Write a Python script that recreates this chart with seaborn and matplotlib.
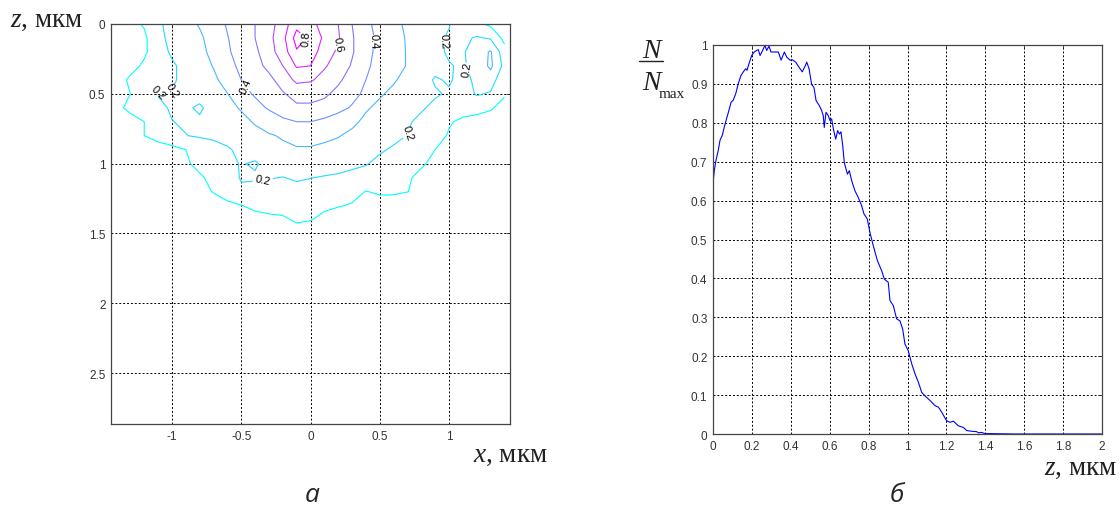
import numpy as np
import matplotlib
matplotlib.use("Agg")
import matplotlib.pyplot as plt
from matplotlib.colors import Normalize
from matplotlib.lines import Line2D
import seaborn as sns

# ---- panel a: N(x, z) map on a 0.1 um grid ----
x_um = [-1.4, -1.3, -1.2, -1.1, -1.0, -0.9, -0.8, -0.7, -0.6, -0.5, -0.4, -0.3, -0.2, -0.1, 0.0,
        0.1, 0.2, 0.3, 0.4, 0.5, 0.6, 0.7, 0.8, 0.9, 1.0, 1.1, 1.2, 1.3, 1.4]
z_um = [0.0, 0.1, 0.2, 0.3, 0.4, 0.5, 0.6, 0.7, 0.8, 0.9, 1.0, 1.1, 1.2, 1.3, 1.4, 1.5, 1.6]
n_map = [
    [0.04, 0.07, 0.11, 0.19, 0.22, 0.26, 0.31, 0.35, 0.41, 0.46, 0.50, 0.56, 0.65, 0.77, 0.73, 0.66, 0.60, 0.50, 0.42, 0.37, 0.33, 0.28, 0.25, 0.22, 0.205, 0.15, 0.12, 0.08, 0.05],
    [0.03, 0.05, 0.08, 0.18, 0.22, 0.25, 0.28, 0.35, 0.395, 0.455, 0.50, 0.57, 0.67, 0.84, 0.78, 0.68, 0.61, 0.51, 0.43, 0.38, 0.34, 0.29, 0.25, 0.22, 0.19, 0.18, 0.21, 0.19, 0.07],
    [0.03, 0.05, 0.08, 0.17, 0.21, 0.24, 0.28, 0.32, 0.385, 0.445, 0.48, 0.56, 0.65, 0.79, 0.74, 0.66, 0.58, 0.51, 0.43, 0.37, 0.33, 0.295, 0.25, 0.22, 0.19, 0.19, 0.25, 0.31, 0.14],
    [0.03, 0.06, 0.12, 0.15, 0.19, 0.22, 0.26, 0.305, 0.37, 0.42, 0.46, 0.53, 0.60, 0.71, 0.70, 0.61, 0.56, 0.49, 0.42, 0.36, 0.33, 0.295, 0.26, 0.23, 0.205, 0.19, 0.23, 0.32, 0.17],
    [0.05, 0.12, 0.19, 0.17, 0.19, 0.22, 0.25, 0.28, 0.34, 0.40, 0.44, 0.47, 0.55, 0.62, 0.61, 0.57, 0.52, 0.45, 0.40, 0.35, 0.31, 0.27, 0.24, 0.19, 0.21, 0.17, 0.22, 0.25, 0.12],
    [0.07, 0.10, 0.17, 0.205, 0.203, 0.22, 0.25, 0.27, 0.298, 0.37, 0.41, 0.45, 0.49, 0.54, 0.54, 0.52, 0.47, 0.43, 0.38, 0.31, 0.28, 0.25, 0.22, 0.21, 0.19, 0.15, 0.21, 0.19, 0.11],
    [0.08, 0.12, 0.15, 0.18, 0.21, 0.22, 0.18, 0.25, 0.27, 0.31, 0.37, 0.41, 0.45, 0.48, 0.48, 0.46, 0.43, 0.39, 0.31, 0.28, 0.25, 0.22, 0.21, 0.18, 0.16, 0.14, 0.13, 0.11, 0.07],
    [0.05, 0.07, 0.10, 0.17, 0.198, 0.21, 0.22, 0.23, 0.24, 0.27, 0.31, 0.35, 0.38, 0.40, 0.40, 0.38, 0.35, 0.32, 0.28, 0.25, 0.23, 0.21, 0.18, 0.15, 0.11, 0.08, 0.07, 0.06, 0.04],
    [0.04, 0.07, 0.10, 0.14, 0.17, 0.198, 0.21, 0.22, 0.23, 0.25, 0.27, 0.29, 0.31, 0.335, 0.335, 0.32, 0.305, 0.28, 0.26, 0.24, 0.22, 0.198, 0.17, 0.14, 0.09, 0.07, 0.05, 0.04, 0.03],
    [0.02, 0.03, 0.04, 0.05, 0.07, 0.10, 0.13, 0.16, 0.19, 0.22, 0.24, 0.26, 0.28, 0.29, 0.29, 0.28, 0.27, 0.25, 0.23, 0.21, 0.19, 0.16, 0.13, 0.10, 0.07, 0.05, 0.04, 0.03, 0.02],
    [0.01, 0.02, 0.03, 0.04, 0.06, 0.09, 0.12, 0.15, 0.18, 0.205, 0.19, 0.23, 0.24, 0.245, 0.24, 0.235, 0.225, 0.215, 0.205, 0.18, 0.16, 0.13, 0.11, 0.08, 0.06, 0.04, 0.03, 0.02, 0.01],
    [0.01, 0.01, 0.02, 0.03, 0.04, 0.06, 0.09, 0.12, 0.17, 0.205, 0.21, 0.205, 0.198, 0.21, 0.202, 0.195, 0.19, 0.18, 0.17, 0.16, 0.14, 0.11, 0.08, 0.06, 0.04, 0.03, 0.02, 0.01, 0.01],
    [0.00, 0.01, 0.01, 0.02, 0.03, 0.05, 0.07, 0.105, 0.14, 0.19, 0.17, 0.165, 0.17, 0.175, 0.17, 0.16, 0.14, 0.12, 0.098, 0.11, 0.115, 0.102, 0.07, 0.05, 0.03, 0.02, 0.01, 0.01, 0.00],
    [0.00, 0.00, 0.01, 0.01, 0.02, 0.03, 0.04, 0.06, 0.08, 0.098, 0.12, 0.13, 0.125, 0.13, 0.125, 0.115, 0.104, 0.095, 0.08, 0.07, 0.05, 0.04, 0.03, 0.02, 0.01, 0.00, 0.00, 0.00, 0.00],
    [0.00, 0.00, 0.00, 0.01, 0.01, 0.02, 0.03, 0.04, 0.05, 0.06, 0.07, 0.08, 0.09, 0.11, 0.104, 0.08, 0.07, 0.06, 0.05, 0.04, 0.03, 0.02, 0.01, 0.01, 0.00, 0.00, 0.00, 0.00, 0.00],
    [0.00, 0.00, 0.00, 0.00, 0.01, 0.01, 0.02, 0.02, 0.03, 0.03, 0.04, 0.05, 0.06, 0.07, 0.06, 0.05, 0.04, 0.03, 0.03, 0.02, 0.02, 0.01, 0.01, 0.00, 0.00, 0.00, 0.00, 0.00, 0.00],
    [0.00, 0.00, 0.00, 0.00, 0.00, 0.00, 0.01, 0.01, 0.01, 0.02, 0.02, 0.02, 0.03, 0.03, 0.03, 0.02, 0.02, 0.02, 0.01, 0.01, 0.01, 0.00, 0.00, 0.00, 0.00, 0.00, 0.00, 0.00, 0.00],
]
plain_levels = [0.1, 0.3, 0.5, 0.7]
label_levels = [0.2, 0.4, 0.6, 0.8]
label_spots = [(-0.03, 0.10), (0.17, 0.14), (0.42, 0.12), (-0.46, 0.44), (0.94, 0.12),
               (1.21, 0.31), (-1.2, 0.44), (-1.0, 0.47), (0.71, 0.78), (-0.35, 1.1)]

# ---- panel b: N/Nmax vs depth ----
z_depth = [0.000, 0.007, 0.015, 0.027, 0.036, 0.048, 0.058, 0.070, 0.082, 0.093, 0.104, 0.117,
           0.130, 0.144, 0.156, 0.168, 0.175, 0.185, 0.199, 0.212, 0.224, 0.233, 0.242, 0.254,
           0.267, 0.276, 0.288, 0.298, 0.319, 0.336, 0.350, 0.367, 0.379, 0.396, 0.408, 0.425,
           0.442, 0.459, 0.473, 0.482, 0.494, 0.507, 0.519, 0.530, 0.547, 0.559, 0.567, 0.572,
           0.581, 0.593, 0.602, 0.610, 0.619, 0.631, 0.641, 0.650, 0.658, 0.667, 0.675, 0.691,
           0.701, 0.713, 0.730, 0.747, 0.764, 0.776, 0.793, 0.807, 0.824, 0.845, 0.867, 0.881,
           0.901, 0.910, 0.927, 0.944, 0.961, 0.975, 0.987, 1.004, 1.022, 1.039, 1.056, 1.073,
           1.090, 1.116, 1.141, 1.159, 1.176, 1.201, 1.219, 1.236, 1.261, 1.287, 1.304, 1.330,
           1.356, 1.364, 1.381, 1.398, 1.424, 1.553, 2.000]
n_ratio = [0.645, 0.678, 0.703, 0.729, 0.755, 0.768, 0.789, 0.811, 0.832, 0.853, 0.858, 0.875,
           0.901, 0.922, 0.931, 0.939, 0.935, 0.952, 0.973, 0.982, 0.986, 0.988, 0.973, 0.985,
           0.999, 0.986, 0.997, 0.982, 0.982, 0.982, 0.961, 0.982, 0.969, 0.961, 0.962, 0.956,
           0.943, 0.931, 0.945, 0.956, 0.939, 0.899, 0.891, 0.857, 0.844, 0.831, 0.818, 0.788,
           0.827, 0.818, 0.805, 0.810, 0.784, 0.758, 0.780, 0.771, 0.777, 0.741, 0.698, 0.668,
           0.677, 0.651, 0.625, 0.608, 0.587, 0.566, 0.553, 0.518, 0.484, 0.446, 0.420, 0.398,
           0.390, 0.343, 0.330, 0.296, 0.291, 0.270, 0.231, 0.214, 0.180, 0.154, 0.133, 0.107,
           0.098, 0.086, 0.073, 0.069, 0.056, 0.034, 0.030, 0.033, 0.021, 0.017, 0.009, 0.007,
           0.006, 0.003, 0.004, 0.001, 0.001, 0.000, 0.000]

a_xticks = [-1, -0.5, 0, 0.5, 1]
a_xlabels = ["-1", "-0.5", "0", "0.5", "1"]
a_yticks = [0, 0.5, 1, 1.5, 2, 2.5]
a_ylabels = ["0", "0.5", "1", "1.5", "2", "2.5"]
b_xticks = [0, 0.2, 0.4, 0.6, 0.8, 1, 1.2, 1.4, 1.6, 1.8, 2]
b_xlabels = ["0", "0.2", "0.4", "0.6", "0.8", "1", "1.2", "1.4", "1.6", "1.8", "2"]
b_yticks = [0, 0.1, 0.2, 0.3, 0.4, 0.5, 0.6, 0.7, 0.8, 0.9, 1]
b_ylabels = ["0", "0.1", "0.2", "0.3", "0.4", "0.5", "0.6", "0.7", "0.8", "0.9", "1"]

sns.set_style("white")
plt.rcParams["font.family"] = ["Liberation Sans", "DejaVu Sans"]
plt.rcParams["mathtext.fontset"] = "custom"
plt.rcParams["mathtext.rm"] = "Liberation Serif"
plt.rcParams["mathtext.it"] = "Liberation Serif:italic"

W, H = 1119, 506
fig = plt.figure(figsize=(W / 100, H / 100), dpi=100)
ax1 = fig.add_axes([111 / W, 1 - 425 / H, 399 / W, 400 / H])
ax2 = fig.add_axes([713 / W, 1 - 435 / H, 389 / W, 389 / H])

grid_kw = dict(color="k", linestyle=(0, (2, 2)), linewidth=0.7)


def style_axes(ax):
    ax.set_axisbelow(True)
    ax.grid(True, **grid_kw)
    ax.tick_params(direction="in", length=3, width=0.6, labelsize=8.5,
                   labelcolor="#333333", top=True, right=True, pad=4)
    for s in ax.spines.values():
        s.set_color("#444444")
        s.set_linewidth(0.9)


# contour lines: unlabelled levels and labelled levels share one colour scale
norm = Normalize(vmin=0.1, vmax=0.8)
grid_n = np.array(n_map)
ax1.contour(x_um, z_um, grid_n, levels=plain_levels, cmap="cool", norm=norm, linewidths=0.8)
cs = ax1.contour(x_um, z_um, grid_n, levels=label_levels, cmap="cool", norm=norm, linewidths=0.8)
ax1.clabel(cs, manual=label_spots, fmt="%.1f", fontsize=8, colors="k",
           inline=True, inline_spacing=3)
ax1.set_xlim(-1.44, 1.44)
ax1.set_ylim(2.865, 0)
ax1.set_xticks(a_xticks, a_xlabels)
ax1.set_yticks(a_yticks, a_ylabels)
style_axes(ax1)

sns.lineplot(x=z_depth, y=n_ratio, ax=ax2, color="#0000ff", linewidth=0.8, estimator=None)
ax2.set_xlim(0, 2)
ax2.set_ylim(0, 1)
ax2.set_xticks(b_xticks, b_xlabels)
ax2.set_yticks(b_yticks, b_ylabels)
style_axes(ax2)

# axis captions
lab_kw = dict(family="Liberation Serif", fontsize=19.5, va="baseline", ha="left", color="#222222")
fig.text(10 / W, 1 - 27 / H, "$z$, мкм", **lab_kw)
fig.text(473 / W, 1 - 462 / H, "$x$, мкм", **lab_kw)
fig.text(1044 / W, 1 - 475 / H, "$z$, мкм", **lab_kw)

# N / N_max written as a stacked fraction
frac_kw = dict(family="Liberation Serif", style="italic", fontsize=20, va="baseline",
               ha="center", color="#222222")
fig.text(651 / W, 1 - 58 / H, "N", **frac_kw)
fig.text(651 / W, 1 - 90 / H, "N", **frac_kw)
fig.text(659 / W, 1 - 98 / H, "max", family="Liberation Serif", fontsize=11,
         va="baseline", ha="left", color="#222222")
fig.add_artist(Line2D([639 / W, 663 / W], [1 - 62 / H, 1 - 62 / H], color="#222222", lw=1.0))

fig.text(312 / W, 1 - 502 / H, "а", family="Open Sans", style="italic", fontsize=19,
         ha="center", va="baseline")
fig.text(897 / W, 1 - 502 / H, "б", family="Open Sans", style="italic", fontsize=19,
         ha="center", va="baseline")

fig.savefig("out.png", dpi=100)
